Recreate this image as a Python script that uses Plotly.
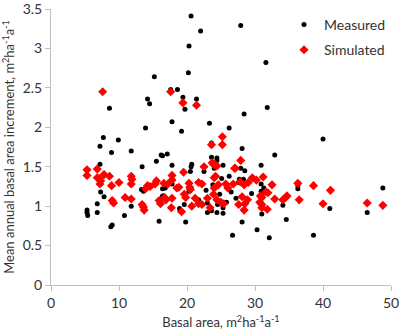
import plotly.graph_objects as go

measured_x = [20.6, 22.0, 20.3, 20.2, 15.2, 18.6, 17.6, 14.2, 14.5, 19.4, 21.4, 19.7, 8.6, 17.8, 13.9, 19.2,
              7.7, 9.9, 7.2, 8.9, 11.8, 15.5, 16.2, 16.4, 17.1, 7.2, 13.4, 17.8, 20.7, 20.6, 27.9, 31.6,
              31.8, 28.4, 23.3, 26.2, 40.0, 23.6, 28.1, 32.9, 23.6, 24.4, 24.4, 25.3, 30.9, 27.9, 5.3, 5.3,
              5.4, 6.8, 6.8, 7.3, 7.8, 9.0, 8.8, 10.8, 11.8, 11.8, 13.3, 13.6, 15.9, 16.4, 16.6, 17.8,
              19.0, 19.6, 19.8, 20.3, 20.5, 21.7, 22.5, 28.5, 25.1, 26.2, 27.7, 28.3, 30.9, 32.5, 36.3, 36.3,
              48.8, 29.5, 30.9, 31.0, 27.2, 23.0, 24.5, 25.3, 34.1, 41.0, 23.0, 23.6, 24.4, 25.3, 31.0, 46.5,
              28.1, 34.6, 30.3, 26.7, 32.1, 38.6, 16.4, 16.8, 18.9, 21.8, 27.6, 31.3, 22.8, 23.8, 24.8, 26.5,
              25.8, 24.0]
measured_y = [3.41, 3.22, 3.03, 2.69, 2.64, 2.48, 2.48, 2.36, 2.30, 2.38, 2.36, 2.23, 2.24, 2.07, 1.99, 1.95,
              1.87, 1.84, 1.76, 1.68, 1.70, 1.57, 1.65, 1.64, 1.66, 1.53, 1.50, 1.52, 1.53, 1.50, 3.29, 2.82,
              2.25, 2.17, 2.05, 1.99, 1.85, 1.80, 1.73, 1.65, 1.62, 1.61, 1.58, 1.52, 1.52, 1.48, 0.95, 0.92,
              0.88, 0.92, 1.03, 1.18, 1.12, 0.76, 0.74, 0.88, 1.00, 1.27, 1.21, 1.19, 0.81, 1.13, 1.13, 1.28,
              0.94, 1.02, 0.80, 1.19, 1.44, 1.08, 1.44, 1.45, 1.35, 1.38, 1.34, 1.34, 1.28, 1.27, 1.26, 1.22,
              1.23, 1.16, 1.19, 1.15, 1.10, 1.04, 1.02, 0.98, 1.01, 0.97, 0.92, 0.94, 0.92, 0.91, 0.90, 0.92,
              0.80, 0.83, 0.70, 0.63, 0.60, 0.63, 1.22, 1.23, 0.97, 1.02, 1.30, 1.23, 1.20, 1.27, 1.15, 1.18,
              1.05, 1.48]

simulated_x = [7.6, 17.6, 19.4, 21.4, 5.3, 6.8, 25.2, 23.6, 25.2, 27.9, 22.5, 23.7, 24.1, 24.4, 27.0,
               5.3, 6.8, 7.1, 7.3, 7.2, 7.8, 8.6, 8.9, 9.0, 9.2, 10.0, 10.9, 11.8, 11.9, 11.8, 11.8, 13.4,
               13.6, 13.7, 13.9, 14.2, 14.6, 15.3, 15.5, 15.9, 16.1, 16.6, 16.7, 16.9, 17.2, 17.8, 17.8, 17.8,
               17.7, 18.5, 18.8, 19.2, 19.5, 19.6, 19.8, 20.3, 20.4, 20.5, 20.7, 21.2, 21.7, 21.7,
               22.2, 22.2, 23.0, 23.4, 23.9, 24.0, 24.2, 24.0, 23.9, 24.4, 24.6, 25.0, 25.4, 25.7, 26.0, 26.8,
               27.1, 27.6, 27.8, 28.1, 28.4, 28.5, 28.4, 29.0, 28.9, 29.6, 30.2, 30.8, 31.0, 30.7, 31.0, 31.0,
               31.2, 31.6, 31.9, 31.8, 32.5, 32.9, 34.1, 34.5, 34.7, 36.3, 36.5, 38.6, 40.0, 41.1, 46.5, 48.8]
simulated_y = [2.45, 2.45, 2.31, 2.28, 1.46, 1.47, 1.88, 1.78, 1.78, 1.58, 1.50, 1.55, 1.53, 1.51, 1.48,
               1.39, 1.36, 1.35, 1.32, 1.28, 1.40, 1.38, 1.26, 1.07, 1.04, 1.30, 1.11, 1.38, 1.34, 1.28, 1.09, 1.02,
               0.99, 0.95, 1.22, 1.26, 1.25, 1.28, 1.32, 1.07, 1.03, 1.29, 1.11, 1.08, 1.28, 1.39, 1.33, 1.10,
               0.98, 1.23, 1.24, 0.93, 1.43, 1.15, 1.11, 1.29, 1.24, 1.21, 1.00, 1.10, 1.30, 1.03,
               1.28, 1.02, 1.10, 0.98, 1.53, 1.36, 1.38, 1.23, 1.15, 1.08, 1.27, 1.05, 1.03, 1.28, 1.23, 1.28,
               1.48, 1.02, 1.31, 1.12, 1.27, 1.03, 0.95, 1.30, 1.08, 1.36, 1.33, 1.13, 1.11, 1.05, 1.02, 0.98,
               1.37, 1.18, 1.17, 0.96, 1.27, 1.09, 1.08, 1.11, 1.13, 1.29, 1.08, 1.26, 1.03, 1.20, 1.04, 1.01]

x_ticks = [0, 10, 20, 30, 40, 50]
y_ticks = [0, 0.5, 1, 1.5, 2, 2.5, 3, 3.5]
y_tick_text = ["0", "0.5", "1", "1.5", "2", "2.5", "3", "3.5"]

FONT = "Lato"
TXT = "#333333"

fig = go.Figure()
fig.add_trace(go.Scatter(x=measured_x, y=measured_y, mode="markers", name="Measured",
                         legendgroup="m",
                         marker=dict(symbol="circle", size=5, color="black")))
fig.add_trace(go.Scatter(x=simulated_x, y=simulated_y, mode="markers", name="Simulated",
                         legendgroup="s",
                         marker=dict(symbol="diamond", size=7, color="#ff0000")))

axis_common = dict(showgrid=False, zeroline=False, showline=True, linecolor="#bfbfbf", linewidth=1,
                   ticks="outside", tickcolor="#bfbfbf", ticklen=5, automargin=False,
                   ticklabeloverflow="allow",
                   tickfont=dict(family=FONT, size=14, color=TXT))

fig.update_layout(
    width=400, height=332,
    margin=dict(l=51, r=9, t=9, b=47),
    paper_bgcolor="white", plot_bgcolor="white",
    font=dict(family=FONT, size=13, color=TXT),
    showlegend=True,
    legend=dict(x=1.0, y=1.0, xanchor="right", yanchor="top", bgcolor="rgba(0,0,0,0)",
                font=dict(family=FONT, size=14, color=TXT), tracegroupgap=4,
                traceorder="grouped"),
    xaxis=dict(range=[0, 50], tickvals=x_ticks,
               title=dict(text="Basal area, m<sup>2</sup>ha<sup>-1</sup>a<sup>-1</sup>",
                          font=dict(family=FONT, size=13, color=TXT), standoff=8),
               **axis_common),
    yaxis=dict(range=[0, 3.5], tickvals=y_ticks, ticktext=y_tick_text,
               title=dict(text="Mean annual basal area increment, m<sup>2</sup>ha<sup>-1</sup>a<sup>-1</sup>",
                          font=dict(family=FONT, size=13, color=TXT), standoff=6),
               **axis_common),
)

fig.write_html("out.html")
